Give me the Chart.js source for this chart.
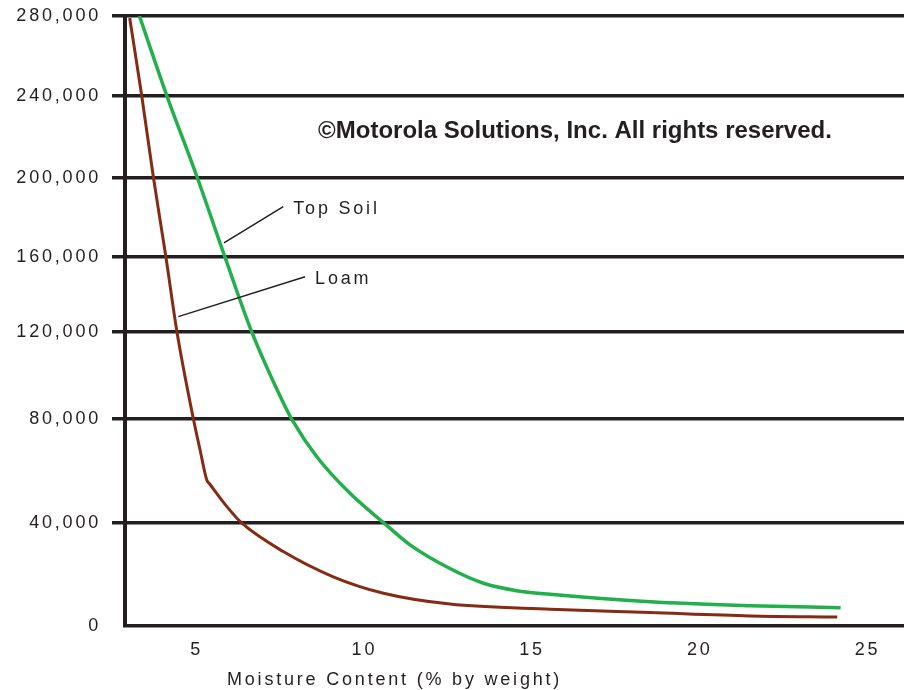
<!DOCTYPE html>
<html>
<head>
<meta charset="utf-8">
<script src="https://cdn.jsdelivr.net/npm/chart.js@4.4.1/dist/chart.umd.min.js"></script>
<style>
  html, body { margin: 0; padding: 0; background: #fff; }
  #wrap { width: 904px; height: 690px; }
</style>
</head>
<body>
<div id="wrap"><canvas id="soilChart"></canvas></div>
<script>
// tick labels
const moistureTicks = [5, 10, 15, 20, 25];
const resistivityTicks = [0, 40000, 80000, 120000, 160000, 200000, 240000, 280000];

// Top Soil curve (moisture %, resistivity)
const topSoilMoisture = [3.29, 4.11, 5.02, 5.84, 6.64, 7.54, 7.83, 8.58, 9.57, 10.58, 11.36, 12.55, 13.55, 14.54, 15.54, 18.52, 21.5, 24.2];
const topSoilResistivity = [280000, 240000, 200000, 160000, 120000, 88700, 80000, 65500, 51400, 40000, 31500, 22300, 16600, 13700, 12300, 9400, 7900, 7100];

// Loam curve
const loamMoisture = [3.0, 3.36, 3.71, 4.08, 4.41, 4.9, 5.1, 5.3, 5.38, 5.9, 6.34, 7.58, 9.07, 10.57, 12.55, 15.54, 18.52, 21.5, 24.1];
const loamResistivity = [279000, 240000, 200000, 160000, 120000, 80000, 68000, 56500, 55100, 46300, 40000, 28900, 19100, 12700, 8500, 6500, 5200, 3900, 3500];

const ink = '#231f20';
const green = '#21b04b';
const brown = '#862b13';

// the printed y axis is not evenly spaced: where each tick sits along the axis (0..1)
const gridFractions = [0, 0.1689, 0.3393, 0.482, 0.6049, 0.7344, 0.8689, 1];

function toFraction(v) {
  const t = resistivityTicks, f = gridFractions;
  let i = 1;
  while (i < t.length - 1 && v > t[i]) i++;
  return f[i - 1] + (v - t[i - 1]) / (t[i] - t[i - 1]) * (f[i] - f[i - 1]);
}
function fromFraction(d) {
  const t = resistivityTicks, f = gridFractions;
  let i = 1;
  while (i < f.length - 1 && d > f[i]) i++;
  return t[i - 1] + (d - f[i - 1]) / (f[i] - f[i - 1]) * (t[i] - t[i - 1]);
}

class SteppedScale extends Chart.LinearScale {
  static id = 'stepped';
  getPixelForValue(value) {
    if (value === null || isNaN(value)) return NaN;
    return this.getPixelForDecimal(toFraction(value));
  }
  getValueForPixel(pixel) {
    return fromFraction(this.getDecimalForPixel(pixel));
  }
}
Chart.register(SteppedScale);

const toPoints = (xs, ys) => xs.map((x, i) => ({ x: x, y: ys[i] }));

const textSpacing = {
  id: 'textSpacing',
  beforeDraw(chart) {
    chart.ctx.letterSpacing = '2.8px';
  }
};

const callouts = {
  id: 'callouts',
  afterDraw(chart, args, opts) {
    const ctx = chart.ctx;
    const x = chart.scales.x, y = chart.scales.y;
    ctx.save();
    ctx.strokeStyle = ink;
    ctx.fillStyle = ink;
    ctx.lineWidth = 1.5;
    ctx.font = '18px "Liberation Sans", Arial, sans-serif';
    ctx.letterSpacing = '2.8px';
    ctx.textBaseline = 'middle';
    opts.items.forEach(c => {
      const x1 = x.getPixelForValue(c.from[0]), y1 = y.getPixelForValue(c.from[1]);
      const x2 = x.getPixelForValue(c.to[0]), y2 = y.getPixelForValue(c.to[1]);
      ctx.beginPath();
      ctx.moveTo(x1, y1);
      ctx.lineTo(x2, y2);
      ctx.stroke();
      ctx.fillText(chart.data.datasets[c.dataset].label, x2 + 10, y2 + 2);
    });
    ctx.fillText('Moisture Content (% by weight)', 227, 680);
    ctx.font = 'bold 24px "Liberation Sans", Arial, sans-serif';
    ctx.letterSpacing = '0px';
    ctx.textAlign = 'center';
    ctx.fillText('©Motorola Solutions, Inc. All rights reserved.', 575, 131);
    ctx.restore();
  }
};

const ctx = document.getElementById('soilChart').getContext('2d');
const soilChart = new Chart(ctx, {
  type: 'line',
  data: {
    datasets: [{
      label: 'Top Soil',
      data: toPoints(topSoilMoisture, topSoilResistivity),
      borderColor: green,
      borderWidth: 3.5,
      pointRadius: 0,
      cubicInterpolationMode: 'monotone',
      fill: false
    }, {
      label: 'Loam',
      data: toPoints(loamMoisture, loamResistivity),
      borderColor: brown,
      borderWidth: 3,
      pointRadius: 0,
      cubicInterpolationMode: 'monotone',
      fill: false
    }]
  },
  options: {
    responsive: true,
    maintainAspectRatio: false,
    animation: false,
    layout: { padding: { top: 16, right: 0, bottom: 0, left: 0 } },
    plugins: {
      legend: { display: false },
      tooltip: { enabled: false },
      callouts: {
        items: [
          { dataset: 0, from: [5.81, 167200], to: [7.58, 185500] },
          { dataset: 1, from: [4.45, 128200], to: [8.23, 149500] }
        ]
      }
    },
    scales: {
      x: {
        type: 'linear',
        min: 2.86,
        max: 26.09,
        afterBuildTicks: s => { s.ticks = moistureTicks.map(v => ({ value: v })); },
        afterFit: s => { s.height = 64; s.paddingLeft = 0; s.paddingRight = 0; },
        grid: { display: false, drawTicks: false },
        border: { display: false },
        ticks: {
          padding: 13,
          color: ink,
          maxRotation: 0,
          font: { family: '"Liberation Sans", Arial, sans-serif', size: 18 }
        }
      },
      y: {
        type: 'stepped',
        min: 0,
        max: 280000,
        afterBuildTicks: s => { s.ticks = resistivityTicks.map(v => ({ value: v })); },
        afterFit: s => { s.width = 125; s.paddingTop = 0; s.paddingBottom = 0; },
        grid: {
          color: ink,
          lineWidth: 3.5,
          tickLength: 13,
          tickWidth: 3.5,
          tickColor: c => (c.tick && c.tick.value === 0) ? 'rgba(0,0,0,0)' : ink
        },
        border: { display: true, color: ink, width: 4 },
        ticks: {
          padding: 11,
          color: ink,
          font: { family: '"Liberation Sans", Arial, sans-serif', size: 18 },
          callback: v => v.toLocaleString('en-US')
        }
      }
    }
  },
  plugins: [textSpacing, callouts]
});
</script>
</body>
</html>
